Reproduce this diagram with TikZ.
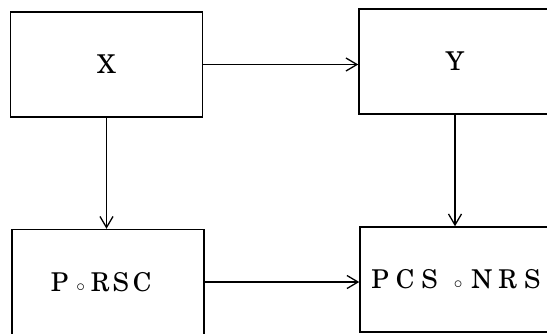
\documentclass[tikz,border=0pt]{standalone}
\usepackage{fontspec}
\setmainfont{TeX Gyre Schola}
\usetikzlibrary{arrows.meta}

\newcommand{\ringdot}{$\scriptstyle\circ$}

\begin{document}
\begin{tikzpicture}[x=1bp, y=-1bp,
                    box/.style={draw, line width=1.5bp, minimum width=192bp,
                                minimum height=105bp, inner sep=0pt,
                                font=\fontsize{26}{30}\selectfont},
                    flow/.style={line width=1.3bp,
                                 -{Straight Barb[length=11bp, width=13bp]}}]
  \useasboundingbox (0,0) rectangle (547,333);
  \clip (0,0) rectangle (547,333);
  \node[box] (x)    at (106.5,64.5) {X};
  \node[box] (y)    at (455,61.5)   {Y};
  \node[box, text width=114bp, align=left] (prsc) at (108,282)
    {P\hspace{8bp}\ringdot\hspace{6bp}R\hspace{3bp}S\hspace{4bp}C};
  \node[box] (pcs)  at (456,279.5)
    {P\hspace{7bp}C\hspace{7bp}S\hspace{16bp}\ringdot\hspace{9bp}N\hspace{6bp}R\hspace{7bp}S};
  \draw[flow] (x.east) -- (x.east -| y.west);
  \draw[flow] (x.south) -- (x.south |- prsc.north);
  \draw[flow] (y.south) -- (y.south |- pcs.north);
  \draw[flow] (prsc.east) -- (prsc.east -| pcs.west);
\end{tikzpicture}
\end{document}
